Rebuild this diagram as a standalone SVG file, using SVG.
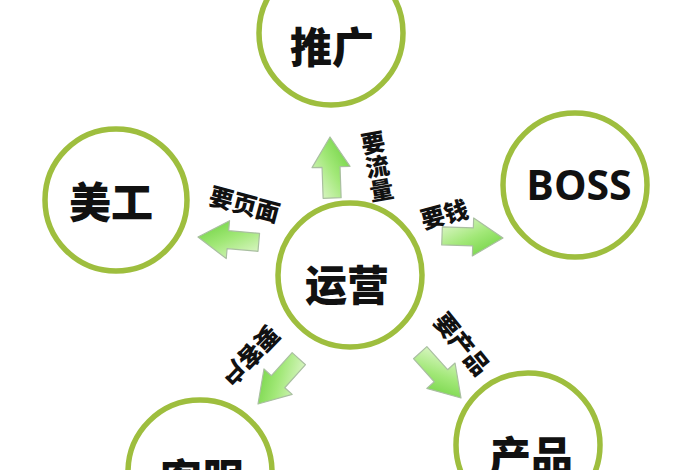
<svg xmlns="http://www.w3.org/2000/svg" width="700" height="470" viewBox="0 0 700 470">
<defs>
<linearGradient id="ag" gradientUnits="userSpaceOnUse" x1="-40" y1="-19" x2="-20" y2="19">
<stop offset="0" stop-color="#d4f4bc"/>
<stop offset="0.5" stop-color="#a2e878"/>
<stop offset="1" stop-color="#78d64a"/>
</linearGradient>
<path id="arrow" d="M0,0 L-30,-19 L-30,-9 L-61,-9 L-61,9 L-30,9 L-30,19 Z" fill="url(#ag)" stroke="#a9bfa0" stroke-width="1.2" stroke-linejoin="round"/>
</defs>
<style>
.node circle{fill:#ffffff;stroke:#9ebe3e;stroke-width:5.5}
.nt{font-family:"Noto Sans CJK SC","Noto Sans",sans-serif;font-weight:900;font-size:42px;fill:#111;text-anchor:middle;dominant-baseline:central}
.bt{font-family:"Open Sans","Liberation Sans",sans-serif;font-weight:bold;font-size:41px;fill:#111;text-anchor:middle;dominant-baseline:central}
.lb{font-family:"Noto Sans CJK SC",sans-serif;font-weight:900;font-size:24px;fill:#111;text-anchor:middle;dominant-baseline:central}
</style>
<rect width="700" height="470" fill="#ffffff"/>
<g id="connectors">
<use href="#arrow" transform="translate(330,137) rotate(-92)"/>
<use href="#arrow" transform="translate(198,237) rotate(185)"/>
<use href="#arrow" transform="translate(503,238) rotate(2)"/>
<use href="#arrow" transform="translate(258,404) rotate(132)"/>
<use href="#arrow" transform="translate(461,398) rotate(48)"/>
<g id="labels">
<g transform="translate(377,165) rotate(-10)">
<text class="lb" x="0" y="-24">要</text>
<text class="lb" x="0" y="0">流</text>
<text class="lb" x="0" y="24">量</text>
</g>
<text class="lb" transform="translate(245,203) rotate(15)">要页面</text>
<text class="lb" transform="translate(444,213) rotate(-15)">要钱</text>
<text class="lb" transform="translate(463,343) rotate(51)">要产品</text>
<text class="lb" transform="translate(251,357) rotate(134)">要客户</text>
</g>
</g>
<g id="node-tuiguang" class="node"><circle cx="331" cy="33" r="72"/><text class="nt" x="332" y="44">推广</text></g>
<g id="node-meigong" class="node"><circle cx="116" cy="200" r="71"/><text class="nt" x="111" y="199">美工</text></g>
<g id="node-boss" class="node"><circle cx="575" cy="185" r="72"/><text class="bt" x="579" y="184">BOSS</text></g>
<g id="node-yunying" class="node"><circle cx="350" cy="275" r="72"/><text class="nt" x="347" y="282">运营</text></g>
<g id="node-kefu" class="node"><circle cx="200" cy="472" r="72"/><text class="nt" x="202" y="476">客服</text></g>
<g id="node-chanpin" class="node"><circle cx="528" cy="445" r="72"/><text class="nt" x="531" y="453">产品</text></g>
</svg>
